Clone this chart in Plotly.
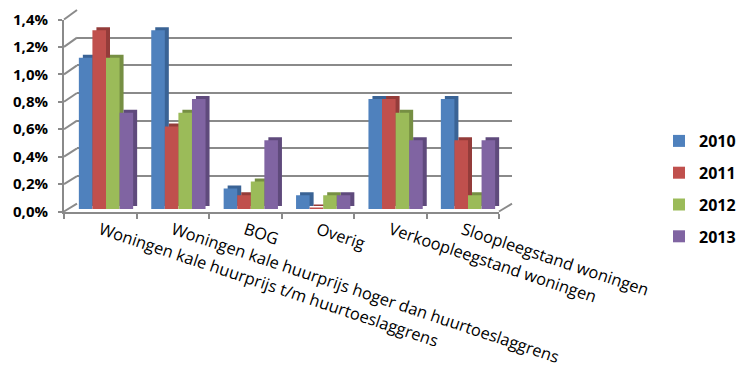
import plotly.graph_objects as go

categories = [
    "Woningen kale huurprijs t/m huurtoeslaggrens",
    "Woningen kale huurprijs hoger dan huurtoeslaggrens",
    "BOG",
    "Overig",
    "Verkoopleegstand woningen",
    "Sloopleegstand woningen",
]
years = ["2010", "2011", "2012", "2013"]
v2010 = [1.1, 1.3, 0.15, 0.1, 0.8, 0.8]
v2011 = [1.3, 0.6, 0.1, 0.005, 0.8, 0.5]
v2012 = [1.1, 0.7, 0.2, 0.1, 0.7, 0.1]
v2013 = [0.7, 0.8, 0.5, 0.1, 0.5, 0.5]
series = [v2010, v2011, v2012, v2013]
tick_vals = [0, 0.2, 0.4, 0.6, 0.8, 1.0, 1.2, 1.4]
tick_text = ["0,0%", "0,2%", "0,4%", "0,6%", "0,8%", "1,0%", "1,2%", "1,4%"]

front_colors = ["#4F81BD", "#C0504D", "#9BBB59", "#8064A2"]
side_colors = ["#3A6395", "#943C3A", "#768F43", "#5F4A7C"]

W, H = 740, 369
GRID = "#8A8A8A"


def xd(a, b):
    return [a / W, b / W]


def yd(top, bottom):
    return [(H - bottom) / H, (H - top) / H]


fig = go.Figure()

# back wall subplot (x / y): gridlines only
fig.add_trace(go.Scatter(x=categories, y=[0] * 6, mode="markers",
                         marker=dict(opacity=0), showlegend=False,
                         hoverinfo="skip", xaxis="x", yaxis="y"))
# extrusion (shadow) bars
for i, yr in enumerate(years):
    fig.add_trace(go.Bar(x=categories, y=series[i], name=yr, legendgroup=yr,
                         marker=dict(color=side_colors[i], line=dict(width=0)),
                         showlegend=False, hoverinfo="skip",
                         xaxis="x2", yaxis="y2"))
# front bars
for i, yr in enumerate(years):
    fig.add_trace(go.Bar(x=categories, y=series[i], name=yr, legendgroup=yr,
                         marker=dict(color=front_colors[i], line=dict(width=0)),
                         hoverinfo="skip", xaxis="x3", yaxis="y3"))
# front axes subplot
fig.add_trace(go.Scatter(x=categories, y=[0] * 6, mode="markers",
                         marker=dict(opacity=0), showlegend=False,
                         hoverinfo="skip", xaxis="x4", yaxis="y4"))

hidden_x = dict(type="category", categoryorder="array", categoryarray=categories,
                range=[-0.5, 5.5], showgrid=False, showticklabels=False,
                zeroline=False, showline=False, ticks="", automargin=False)
hidden_y = dict(range=[0, 1.4], showgrid=False, showticklabels=False,
                zeroline=False, showline=False, ticks="", automargin=False)

fig.update_layout(
    width=W, height=H,
    margin=dict(l=0, r=0, t=0, b=0, autoexpand=False),
    paper_bgcolor="white", plot_bgcolor="rgba(0,0,0,0)",
    barmode="group", bargap=0.25, bargroupgap=0,
    showlegend=True,
    legend=dict(x=659 / W, y=1 - 124 / H, xanchor="left", yanchor="top",
                font=dict(family="Open Sans", size=16, color="black", weight="bold"),
                traceorder="grouped", tracegroupgap=8, itemwidth=30,
                bgcolor="rgba(0,0,0,0)"),
    xaxis=dict(hidden_x, domain=xd(77, 512), anchor="y"),
    yaxis=dict(range=[0, 1.4], domain=yd(10, 203.7), anchor="x",
               showgrid=True, gridcolor=GRID, gridwidth=2, tickvals=tick_vals,
               showticklabels=False, zeroline=False, showline=False, ticks="",
               automargin=False),
    xaxis2=dict(hidden_x, domain=xd(73.8, 508.2), anchor="y2"),
    yaxis2=dict(hidden_y, domain=yd(13.5, 206), anchor="x2"),
    xaxis3=dict(hidden_x, domain=xd(69.8, 504.2), anchor="y3"),
    yaxis3=dict(hidden_y, domain=yd(16.5, 209), anchor="x3"),
    xaxis4=dict(type="category", categoryorder="array", categoryarray=categories,
                range=[-0.5, 5.5], domain=xd(64, 499), anchor="y4",
                showgrid=False, zeroline=False, showline=True, linecolor=GRID,
                linewidth=2, ticks="outside", tickson="boundaries", ticklen=5,
                tickwidth=2, tickcolor=GRID, tickangle=18.5, automargin=False,
                ticklabelstandoff=1,
                tickfont=dict(family="Open Sans", size=16.4, color="black")),
    yaxis4=dict(range=[0, 1.4], domain=yd(19.5, 211.5), anchor="x4",
                showgrid=False, zeroline=False, showline=True, linecolor=GRID,
                linewidth=2, ticks="outside", ticklen=4, tickwidth=2,
                tickcolor=GRID, tickvals=tick_vals, ticktext=tick_text,
                automargin=False, ticklabelstandoff=7,
                tickfont=dict(family="Open Sans", size=15, color="black", weight="bold")),
)

# perspective connectors (wall / floor edges) computed from tick values
shapes = []
for v in tick_vals:
    yf = 211.5 - v * (192.0 / 1.4)
    yb = 203.7 - v * (193.7 / 1.4)
    shapes.append(dict(type="line", xref="paper", yref="paper",
                       x0=64 / W, y0=1 - yf / H, x1=77 / W, y1=1 - yb / H,
                       line=dict(color=GRID, width=2), layer="below"))
shapes.append(dict(type="line", xref="paper", yref="paper",
                   x0=499 / W, y0=1 - 211.5 / H, x1=512 / W, y1=1 - 203.7 / H,
                   line=dict(color=GRID, width=2), layer="below"))
fig.update_layout(shapes=shapes)

fig.write_html("out.html")
